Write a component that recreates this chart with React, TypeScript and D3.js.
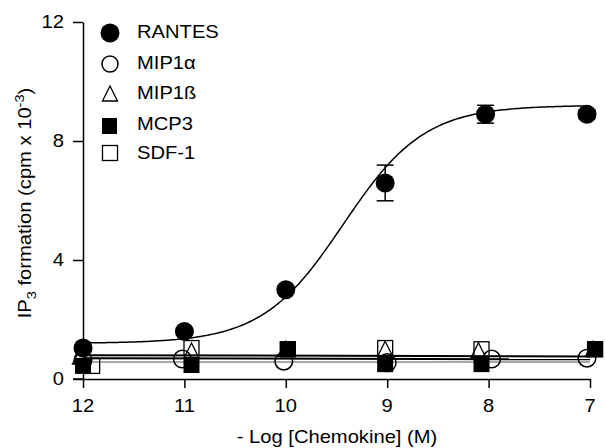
import { useRef, useEffect } from 'react';
import * as d3 from 'd3';

const W = 605;
const H = 448;
const FONT = 'Liberation Sans, Arial, Helvetica, sans-serif';
const STRETCH = 1.12; // text in the figure is a bit wider than Arial

const X_TICKS = [12, 11, 10, 9, 8, 7];
const Y_TICKS = [0, 4, 8, 12];

// RANTES (filled circles, with SEM)
const rantesX = [12, 11, 10, 9.02, 8.03, 7.03];
const rantesY = [1.04, 1.6, 3.0, 6.59, 8.9, 8.9];
const rantesErr = [0.1, 0.1, 0.1, 0.6, 0.3, 0.15];

// other chemokines
const mip1aX = [12, 11.02, 10.02, 9, 7.97, 7.03];
const mip1aY = [0.64, 0.67, 0.6, 0.55, 0.67, 0.7];
const mip1bX = [12.03, 10.93, 10, 9.02, 8.1, 6.97];
const mip1bY = [0.74, 0.94, 1.0, 1.0, 0.95, 1.0];
const mcp3X = [12, 10.93, 9.98, 9.02, 8.07, 6.95];
const mcp3Y = [0.44, 0.47, 1.0, 0.5, 0.5, 1.0];
const sdf1X = [11.91, 10.93, 9.98, 9.02, 8.07, 6.95];
const sdf1Y = [0.44, 1.04, 1.0, 1.04, 1.0, 1.0];

// fitted curves
const rantesFit = { bottom: 1.2, top: 9.2, logEC50: 9.433, hill: 1.086 };
const flatFitX = [12, 7];
const mip1bFit = [0.8, 0.76];
const mcp3Fit = [0.7, 0.66];
const mip1aFit = [0.57, 0.57];

const LEGEND = ['RANTES', 'MIP1\u03b1', 'MIP1\u00df', 'MCP3', 'SDF-1'];

const App = () => {
  const svgRef = useRef<SVGSVGElement>(null);

  useEffect(() => {
    const svg = d3.select(svgRef.current);
    svg.selectAll('*').remove();

    const x = d3.scaleLinear().domain([12, 7]).range([83, 590]);
    const y = d3.scaleLinear().domain([0, 12]).range([379, 22]);

    const txt = (g, px, py, s, anchor = 'middle', size = 18) =>
      g
        .append('text')
        .attr('transform', `translate(${px},${py}) scale(${STRETCH},1)`)
        .attr('text-anchor', anchor)
        .attr('dominant-baseline', 'central')
        .attr('font-family', FONT)
        .attr('font-size', size)
        .attr('fill', '#000')
        .text(s);

    // Y axis
    const yAxis = svg.append('g').attr('transform', `translate(${x(12)},0)`);
    yAxis
      .call(d3.axisLeft(y).tickValues(Y_TICKS).tickSize(10).tickSizeOuter(0).tickFormat(() => ''))
      .selectAll('path,line')
      .attr('stroke', '#000')
      .attr('stroke-width', 1.5);
    Y_TICKS.forEach((t) => txt(svg, 64, y(t), String(t), 'end'));

    // X axis
    const xAxis = svg.append('g').attr('transform', `translate(0,${y(0)})`);
    xAxis
      .call(d3.axisBottom(x).tickValues(X_TICKS).tickSize(9).tickSizeOuter(0).tickFormat(() => ''))
      .selectAll('path,line')
      .attr('stroke', '#000')
      .attr('stroke-width', 1.5);
    svg
      .append('line')
      .attr('x1', 73)
      .attr('x2', x(12))
      .attr('y1', y(0))
      .attr('y2', y(0))
      .attr('stroke', '#000')
      .attr('stroke-width', 1.5);
    X_TICKS.forEach((t) => txt(svg, x(t), 406, String(t)));

    // axis titles
    txt(svg, 337, 437, '- Log [Chemokine] (M)');
    const yt = svg
      .append('text')
      .attr('transform', `translate(31,203) rotate(-90) scale(${STRETCH},1)`)
      .attr('text-anchor', 'middle')
      .attr('font-family', FONT)
      .attr('font-size', 18)
      .attr('fill', '#000');
    yt.append('tspan').text('IP');
    yt.append('tspan').attr('font-size', 13).attr('dy', 5).text('3');
    yt.append('tspan').attr('dy', -5).text(' formation (cpm x 10');
    yt.append('tspan').attr('font-size', 13).attr('dy', -7).text('-3');
    yt.append('tspan').attr('dy', 7).text(')');

    // fit lines
    const line = d3
      .line<[number, number]>()
      .x((d) => x(d[0]))
      .y((d) => y(d[1]));
    const { bottom, top, logEC50, hill } = rantesFit;
    const curve = d3
      .range(12, 6.999, -0.02)
      .map((t) => [t, bottom + (top - bottom) / (1 + Math.pow(10, hill * (t - logEC50)))] as [number, number]);
    svg.append('path').attr('d', line(curve)).attr('fill', 'none').attr('stroke', '#000').attr('stroke-width', 1.5);

    const flat = (vals, color, w) =>
      svg
        .append('path')
        .attr('d', line(flatFitX.map((t, i) => [t, vals[i]] as [number, number])))
        .attr('fill', 'none')
        .attr('stroke', color)
        .attr('stroke-width', w);
    flat(mip1aFit, '#8a8a8a', 1.5);
    flat(mcp3Fit, '#000', 2);
    flat(mip1bFit, '#000', 2);

    // markers
    const openCircle = (g, cx, cy) =>
      g.append('circle').attr('cx', cx).attr('cy', cy).attr('r', 8.8).attr('fill', 'none').attr('stroke', '#000').attr('stroke-width', 1.5);
    const filledCircle = (g, cx, cy) => g.append('circle').attr('cx', cx).attr('cy', cy).attr('r', 9.5).attr('fill', '#000');
    const openTri = (g, cx, cy) =>
      g
        .append('path')
        .attr('d', `M${cx},${cy - 8}L${cx + 7.5},${cy + 7}L${cx - 7.5},${cy + 7}Z`)
        .attr('fill', 'none')
        .attr('stroke', '#000')
        .attr('stroke-width', 1.3);
    const filledSq = (g, cx, cy) => g.append('rect').attr('x', cx - 8).attr('y', cy - 8).attr('width', 16).attr('height', 16).attr('fill', '#000');
    const openSq = (g, cx, cy) =>
      g
        .append('rect')
        .attr('x', cx - 7.5)
        .attr('y', cy - 7.5)
        .attr('width', 15)
        .attr('height', 15)
        .attr('fill', 'none')
        .attr('stroke', '#000')
        .attr('stroke-width', 1.3);

    const pts = svg.append('g');
    mip1aX.forEach((t, i) => openCircle(pts, x(t), y(mip1aY[i])));
    mip1bX.forEach((t, i) => openTri(pts, x(t), y(mip1bY[i])));
    sdf1X.forEach((t, i) => openSq(pts, x(t), y(sdf1Y[i])));
    mcp3X.forEach((t, i) => filledSq(pts, x(t), y(mcp3Y[i])));

    // RANTES error bars + points
    rantesX.forEach((t, i) => {
      const cx = x(t);
      const hi = y(rantesY[i] + rantesErr[i]);
      const lo = y(rantesY[i] - rantesErr[i]);
      const e = pts.append('g').attr('stroke', '#000').attr('stroke-width', 1.5);
      e.append('line').attr('x1', cx).attr('x2', cx).attr('y1', hi).attr('y2', lo);
      e.append('line').attr('x1', cx - 8.5).attr('x2', cx + 8.5).attr('y1', hi).attr('y2', hi);
      e.append('line').attr('x1', cx - 8.5).attr('x2', cx + 8.5).attr('y1', lo).attr('y2', lo);
      filledCircle(pts, cx, y(rantesY[i]));
    });

    // legend
    const lg = svg.append('g');
    const rows = [32, 63, 93, 124, 153];
    const lx = 110;
    filledCircle(lg, lx, rows[0] + 1).attr('rx', 9);
    openCircle(lg, lx, rows[1] + 1).attr('r', 8);
    openTri(lg, lx, rows[2] + 1);
    filledSq(lg, lx, rows[3] + 2).attr('width', 15).attr('height', 16);
    openSq(lg, lx, rows[4]);
    LEGEND.forEach((s, i) => txt(lg, 137, rows[i], s, 'start'));
  }, []);

  return <svg ref={svgRef} width={W} height={H} style={{ position: 'absolute', left: 0, top: 0, background: '#fff' }} />;
};

export default App;
